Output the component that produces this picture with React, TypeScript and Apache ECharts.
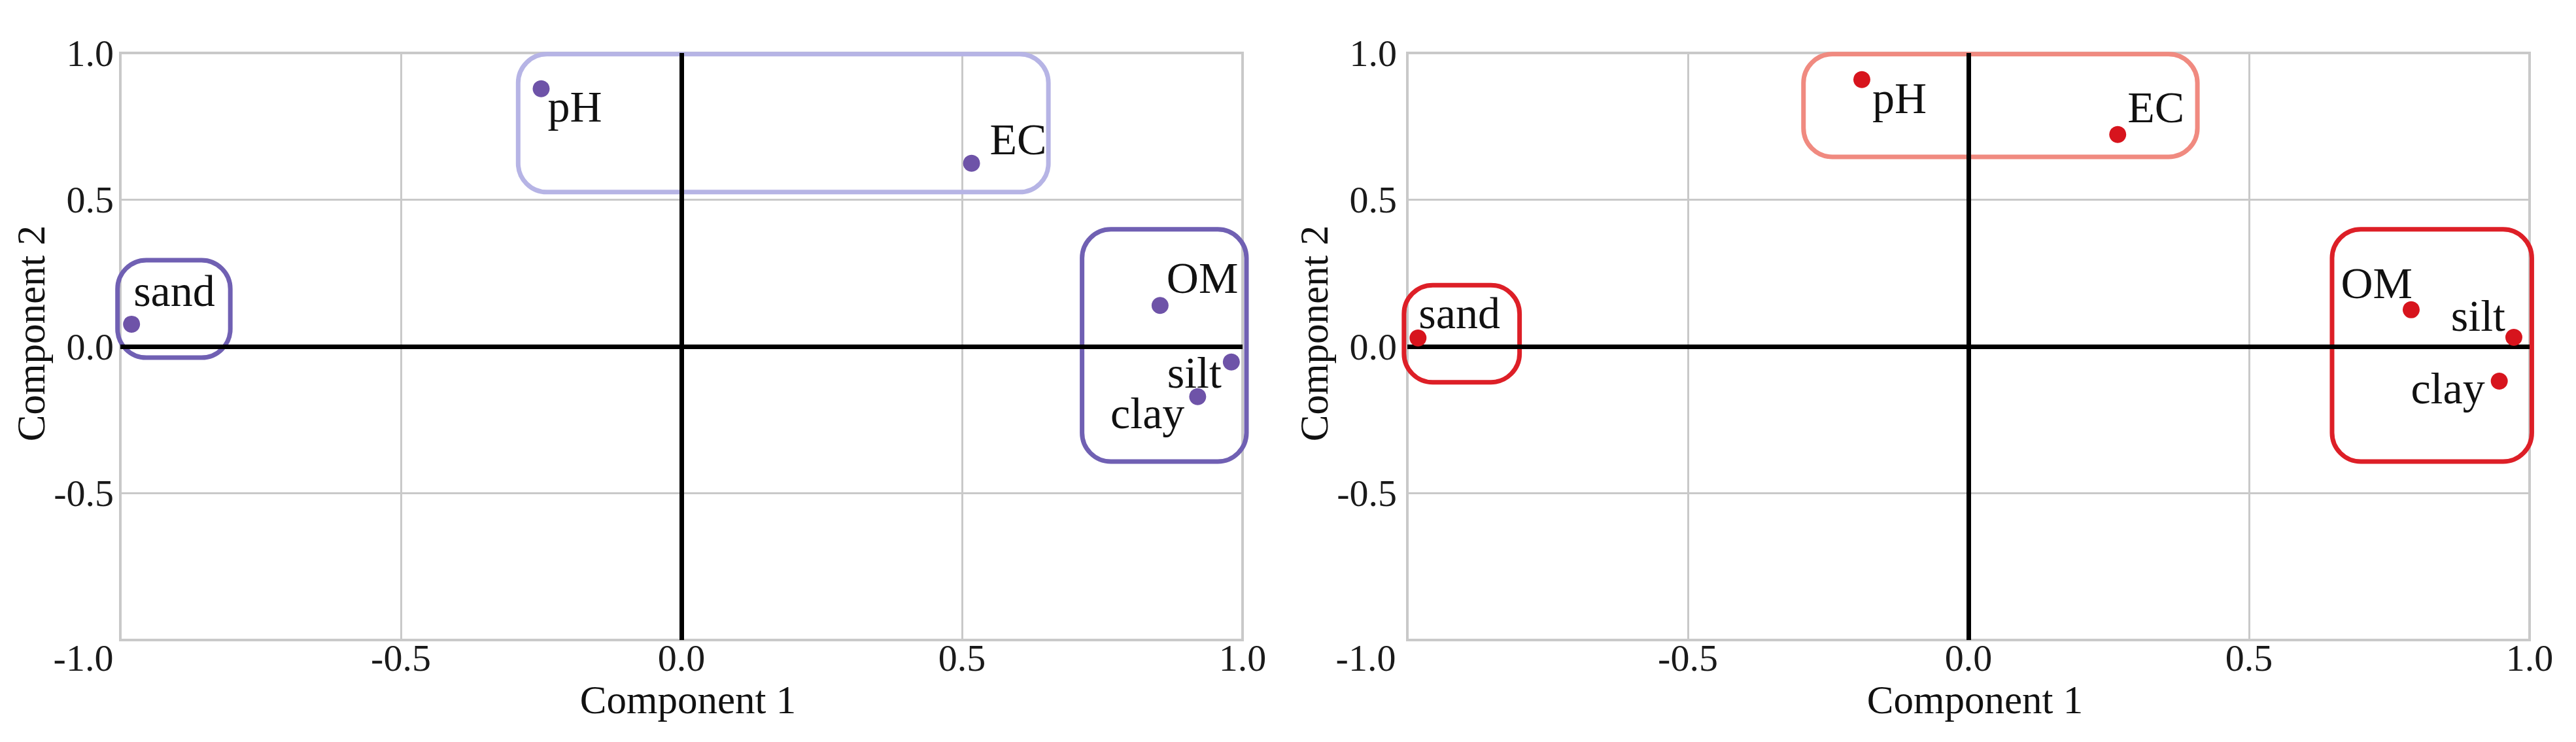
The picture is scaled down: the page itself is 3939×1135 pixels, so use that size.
import React, { useEffect, useRef } from "react";
import * as echarts from "echarts";

// ---- data ----
const variables = ["pH", "EC", "OM", "silt", "clay", "sand"];
const leftComp1 = [-0.25, 0.517, 0.853, 0.98, 0.92, -0.98];
const leftComp2 = [0.878, 0.624, 0.14, -0.053, -0.171, 0.076];
const rightComp1 = [-0.19, 0.266, 0.789, 0.972, 0.946, -0.981];
const rightComp2 = [0.909, 0.722, 0.125, 0.031, -0.118, 0.029];
const tickValues = [-1, -0.5, 0, 0.5, 1];
const tickLabels = ["-1.0", "-0.5", "0.0", "0.5", "1.0"];
const xAxisName = "Component 1";
const yAxisName = "Component 2";
// group outlines: [x0, y0, x1, y1] in component space
const leftGroups = [
  [-0.291, 0.526, 0.654, 0.996],
  [-1.005, -0.038, -0.804, 0.294],
  [0.714, -0.392, 1.007, 0.399],
];
const rightGroups = [
  [-0.294, 0.646, 0.408, 0.996],
  [-1.006, -0.122, -0.8, 0.209],
  [0.648, -0.392, 1.004, 0.399],
];

// ---- styling ----
const FONT = "Liberation Serif";
const GRID_COLOR = "#c9c9c9";
const SYMBOL = 26;
type Place = [string, number, number];
const leftPlace: Record<string, Place> = {
  pH: ["left", 10, 27],
  EC: ["left", 28, -37],
  OM: ["left", 10, -42],
  silt: ["right", -15, 16],
  clay: ["right", -20, 25],
  sand: ["left", 3, -51],
};
const rightPlace: Record<string, Place> = {
  pH: ["left", 16, 28],
  EC: ["left", 15, -42],
  OM: ["right", 2, -41],
  silt: ["right", -13, -33],
  clay: ["right", -22, 11],
  sand: ["left", 1, -38],
};

const panels = [
  {
    grid: { left: 184, top: 81, width: 1716, height: 898 },
    xs: leftComp1,
    ys: leftComp2,
    groups: leftGroups,
    dot: "#6e53a8",
    groupColors: ["#b6b4e5", "#7060b3", "#7060b3"],
    place: leftPlace,
    yMargin: 10,
    minPad: 113,
  },
  {
    grid: { left: 2152, top: 81, width: 1716, height: 898 },
    xs: rightComp1,
    ys: rightComp2,
    groups: rightGroups,
    dot: "#d7141d",
    groupColors: ["#f08a80", "#dd1f27", "#dd1f27"],
    place: rightPlace,
    yMargin: 16,
    minPad: 127,
  },
];

function fmt(v: number) {
  const i = tickValues.findIndex((t) => Math.abs(t - v) < 1e-9);
  return i >= 0 ? tickLabels[i] : String(v);
}

function buildOption() {
  const grid: any[] = [];
  const xAxis: any[] = [];
  const yAxis: any[] = [];
  const series: any[] = [];
  panels.forEach((p, i) => {
    grid.push({
      ...p.grid,
      show: true,
      borderColor: GRID_COLOR,
      borderWidth: 4,
      backgroundColor: "#fff",
      containLabel: false,
    });
    xAxis.push({
      gridIndex: i,
      type: "value",
      min: -1,
      max: 1,
      interval: 0.5,
      axisLine: { show: false },
      axisTick: { show: false },
      splitLine: { show: true, lineStyle: { color: GRID_COLOR, width: 3 } },
      axisLabel: {
        showMinLabel: true,
        showMaxLabel: true,
        margin: 27,
        verticalAlign: "middle",
        fontFamily: FONT,
        fontSize: 58,
        color: "#1a1a1a",
        formatter: (v: number) => (Math.abs(v + 1) < 1e-9 ? "{m|" + fmt(v) + "}" : fmt(v)),
        rich: {
          m: {
            padding: [0, p.minPad, 0, 0],
            fontFamily: FONT,
            fontSize: 58,
            color: "#1a1a1a",
          },
        },
      },
      name: xAxisName,
      nameLocation: "middle",
      nameGap: 43,
      nameTextStyle: {
        fontFamily: FONT,
        fontSize: 61,
        color: "#111",
        padding: [0, 0, 0, 20],
      },
    });
    yAxis.push({
      gridIndex: i,
      type: "value",
      min: -1,
      max: 1,
      interval: 0.5,
      axisLine: { show: false },
      axisTick: { show: false },
      splitLine: { show: true, lineStyle: { color: GRID_COLOR, width: 3 } },
      axisLabel: {
        showMinLabel: true,
        showMaxLabel: true,
        margin: p.yMargin,
        padding: [0, 0, 26, 0],
        fontFamily: FONT,
        fontSize: 58,
        color: "#1a1a1a",
        formatter: (v: number) => (Math.abs(v + 1) < 1e-9 ? "" : fmt(v)),
      },
      name: yAxisName,
      nameLocation: "middle",
      nameGap: 97,
      nameTextStyle: {
        fontFamily: FONT,
        fontSize: 61,
        color: "#111",
        padding: [0, 0, 0, 40],
      },
    });
    const colors = p.groupColors;
    series.push({
      type: "custom",
      xAxisIndex: i,
      yAxisIndex: i,
      z: 3,
      silent: true,
      clip: false,
      encode: { x: [0, 2], y: [1, 3] },
      data: p.groups,
      renderItem: (params: any, api: any) => {
        const tl = api.coord([api.value(0), api.value(3)]);
        const br = api.coord([api.value(2), api.value(1)]);
        const w = br[0] - tl[0];
        const h = br[1] - tl[1];
        return {
          type: "rect",
          shape: { x: tl[0], y: tl[1], width: w, height: h, r: Math.min(44, w / 2 - 10) },
          style: { fill: "rgba(0,0,0,0)", stroke: colors[params.dataIndex], lineWidth: 7 },
        };
      },
    });
    series.push({
      type: "scatter",
      xAxisIndex: i,
      yAxisIndex: i,
      z: 5,
      symbol: "circle",
      symbolSize: SYMBOL,
      itemStyle: { color: p.dot, opacity: 1 },
      data: variables.map((name, k) => {
        const [al, dx, dy] = p.place[name];
        return {
          name,
          value: [p.xs[k], p.ys[k]],
          label: {
            show: true,
            formatter: name,
            position: [SYMBOL / 2 + dx, SYMBOL / 2 + dy],
            align: al,
            verticalAlign: "middle",
            fontFamily: FONT,
            fontSize: 68,
            color: "#111",
          },
        };
      }),
      markLine: {
        silent: true,
        symbol: ["none", "none"],
        label: { show: false },
        lineStyle: { color: "#000", width: 7, type: "solid" },
        data: [{ xAxis: 0 }, { yAxis: 0 }],
        z: 4,
      },
    });
  });
  return {
    animation: false,
    backgroundColor: "#ffffff",
    grid,
    xAxis,
    yAxis,
    series,
  };
}

export default function App() {
  const ref = useRef<HTMLDivElement>(null);
  useEffect(() => {
    if (!ref.current) return;
    const chart = echarts.init(ref.current, undefined, { renderer: "svg" });
    chart.setOption(buildOption() as any);
    return () => chart.dispose();
  }, []);
  return (
    <div
      ref={ref}
      style={{ position: "absolute", left: 0, top: 0, width: 3939, height: 1135, background: "#fff" }}
    />
  );
}
